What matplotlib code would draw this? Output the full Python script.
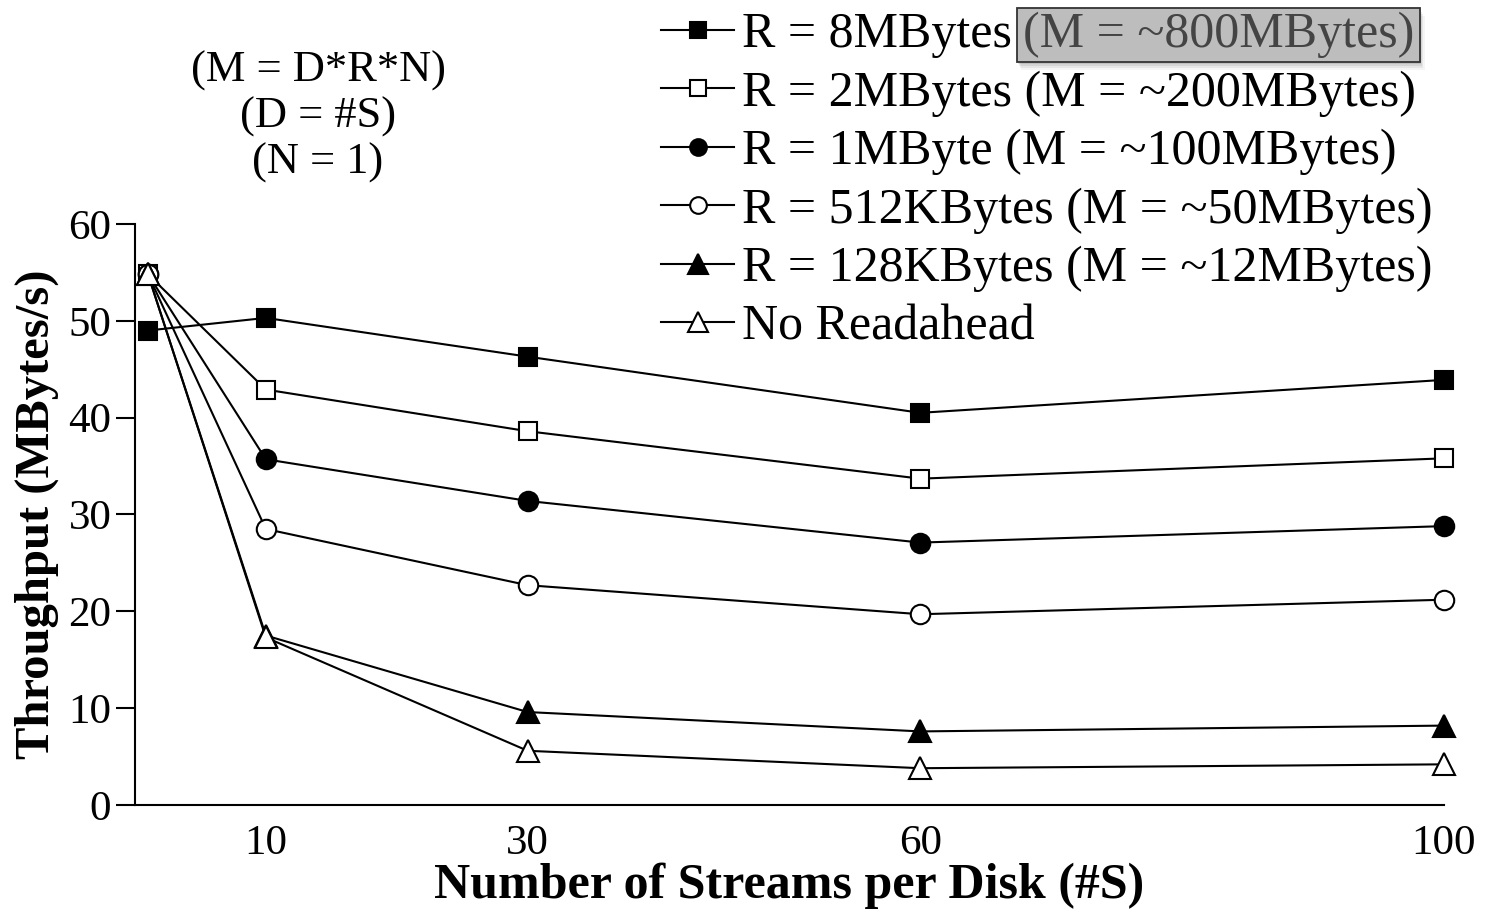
import matplotlib
matplotlib.use("Agg")
import matplotlib.pyplot as plt
from matplotlib.patches import Rectangle

plt.rcParams['font.family'] = ['Liberation Serif', 'DejaVu Serif']

streams = [1, 10, 30, 60, 100]
x_ticks = [10, 30, 60, 100]
y_ticks = [0, 10, 20, 30, 40, 50, 60]

r_8mb = [49.0, 50.3, 46.3, 40.5, 43.9]
r_2mb = [54.8, 42.9, 38.6, 33.7, 35.8]
r_1mb = [54.8, 35.7, 31.4, 27.1, 28.8]
r_512kb = [54.8, 28.5, 22.7, 19.7, 21.2]
r_128kb = [54.8, 17.5, 9.6, 7.6, 8.2]
no_readahead = [54.8, 17.3, 5.6, 3.8, 4.2]

labels = [
    "R = 8MBytes",
    "R = 2MBytes (M = ~200MBytes)",
    "R = 1MByte (M = ~100MBytes)",
    "R = 512KBytes (M = ~50MBytes)",
    "R = 128KBytes (M = ~12MBytes)",
    "No Readahead",
]
highlight_label = "(M = ~800MBytes)"

fig = plt.figure(figsize=(14.86, 9.09), dpi=100)
ax = fig.add_axes([0.0908, 0.1144, 0.8809, 0.6392])

styles = [
    (r_8mb, 's', 'black', 13, 11),
    (r_2mb, 's', 'white', 13, 11),
    (r_1mb, 'o', 'black', 14, 12),
    (r_512kb, 'o', 'white', 14, 12),
    (r_128kb, '^', 'black', 16, 14),
    (no_readahead, '^', 'white', 16, 14),
]
handles = []
legend_sizes = []
for (vals, mk, fc, ms, lms), lab in zip(styles, labels):
    h, = ax.plot(streams, vals, color='black', lw=1.5, marker=mk, markersize=ms,
                 markerfacecolor=fc, markeredgecolor='black', markeredgewidth=1.5,
                 label=lab, clip_on=False, zorder=3)
    handles.append(h)
    legend_sizes.append(lms)

ax.set_xlim(0, 100)
ax.set_ylim(0, 60)
ax.set_xticks(x_ticks)
ax.set_yticks(y_ticks)
ax.tick_params(axis='x', length=0, labelsize=31, pad=14)
ax.tick_params(axis='y', length=14, width=1.5, labelsize=31, pad=3)
for s in ['top', 'right']:
    ax.spines[s].set_visible(False)
for s in ['left', 'bottom']:
    ax.spines[s].set_linewidth(1.5)

ax.set_xlabel("Number of Streams per Disk (#S)", fontsize=36, fontweight='bold', labelpad=0)
ax.set_ylabel("Throughput (MBytes/s)", fontsize=35, fontweight='bold', labelpad=7)

fig.text(0.214, 0.922, "(M = D*R*N)", ha='center', va='center', fontsize=32)
fig.text(0.214, 0.871, "(D = #S)", ha='center', va='center', fontsize=32)
fig.text(0.214, 0.821, "(N = 1)", ha='center', va='center', fontsize=32)

leg = fig.legend(handles=handles, loc='upper left', bbox_to_anchor=(0.445, 0.987),
                 frameon=False, fontsize=36, handlelength=1.45, handletextpad=0.16,
                 labelspacing=0.24, borderaxespad=0, borderpad=0)
for lh, lms in zip(leg.legend_handles, legend_sizes):
    lh.set_markersize(lms)

fig.canvas.draw()
renderer = fig.canvas.get_renderer()
t0 = leg.get_texts()[0]
bb = t0.get_window_extent(renderer).transformed(fig.transFigure.inverted())
hx = bb.x1 + 0.0075
hy = (bb.y0 + bb.y1) / 2
ht = fig.text(hx, hy, highlight_label, ha='left', va='center',
              fontsize=36, color='#444444', zorder=5)
fig.canvas.draw()
tb = ht.get_window_extent(renderer).transformed(fig.transFigure.inverted())
padx, pady = 0.004, 0.004
box_x0, box_y0 = tb.x0 - padx, tb.y0 - pady
box_w, box_h = tb.width + 2 * padx, tb.height + 2 * pady
# soft drop shadow under the highlighted label
for i, a in enumerate([0.10, 0.08, 0.06, 0.04]):
    off = 0.0015 * (i + 1)
    fig.patches.append(Rectangle((box_x0 + off * 0.5, box_y0 - off * 1.5), box_w, box_h,
                                 transform=fig.transFigure, facecolor='black', alpha=a,
                                 edgecolor='none', zorder=3))
fig.patches.append(Rectangle((box_x0, box_y0), box_w, box_h, transform=fig.transFigure,
                             facecolor='#bdbdbd', edgecolor='#333333', lw=1.3, zorder=4))

fig.savefig("out.png", dpi=100)
